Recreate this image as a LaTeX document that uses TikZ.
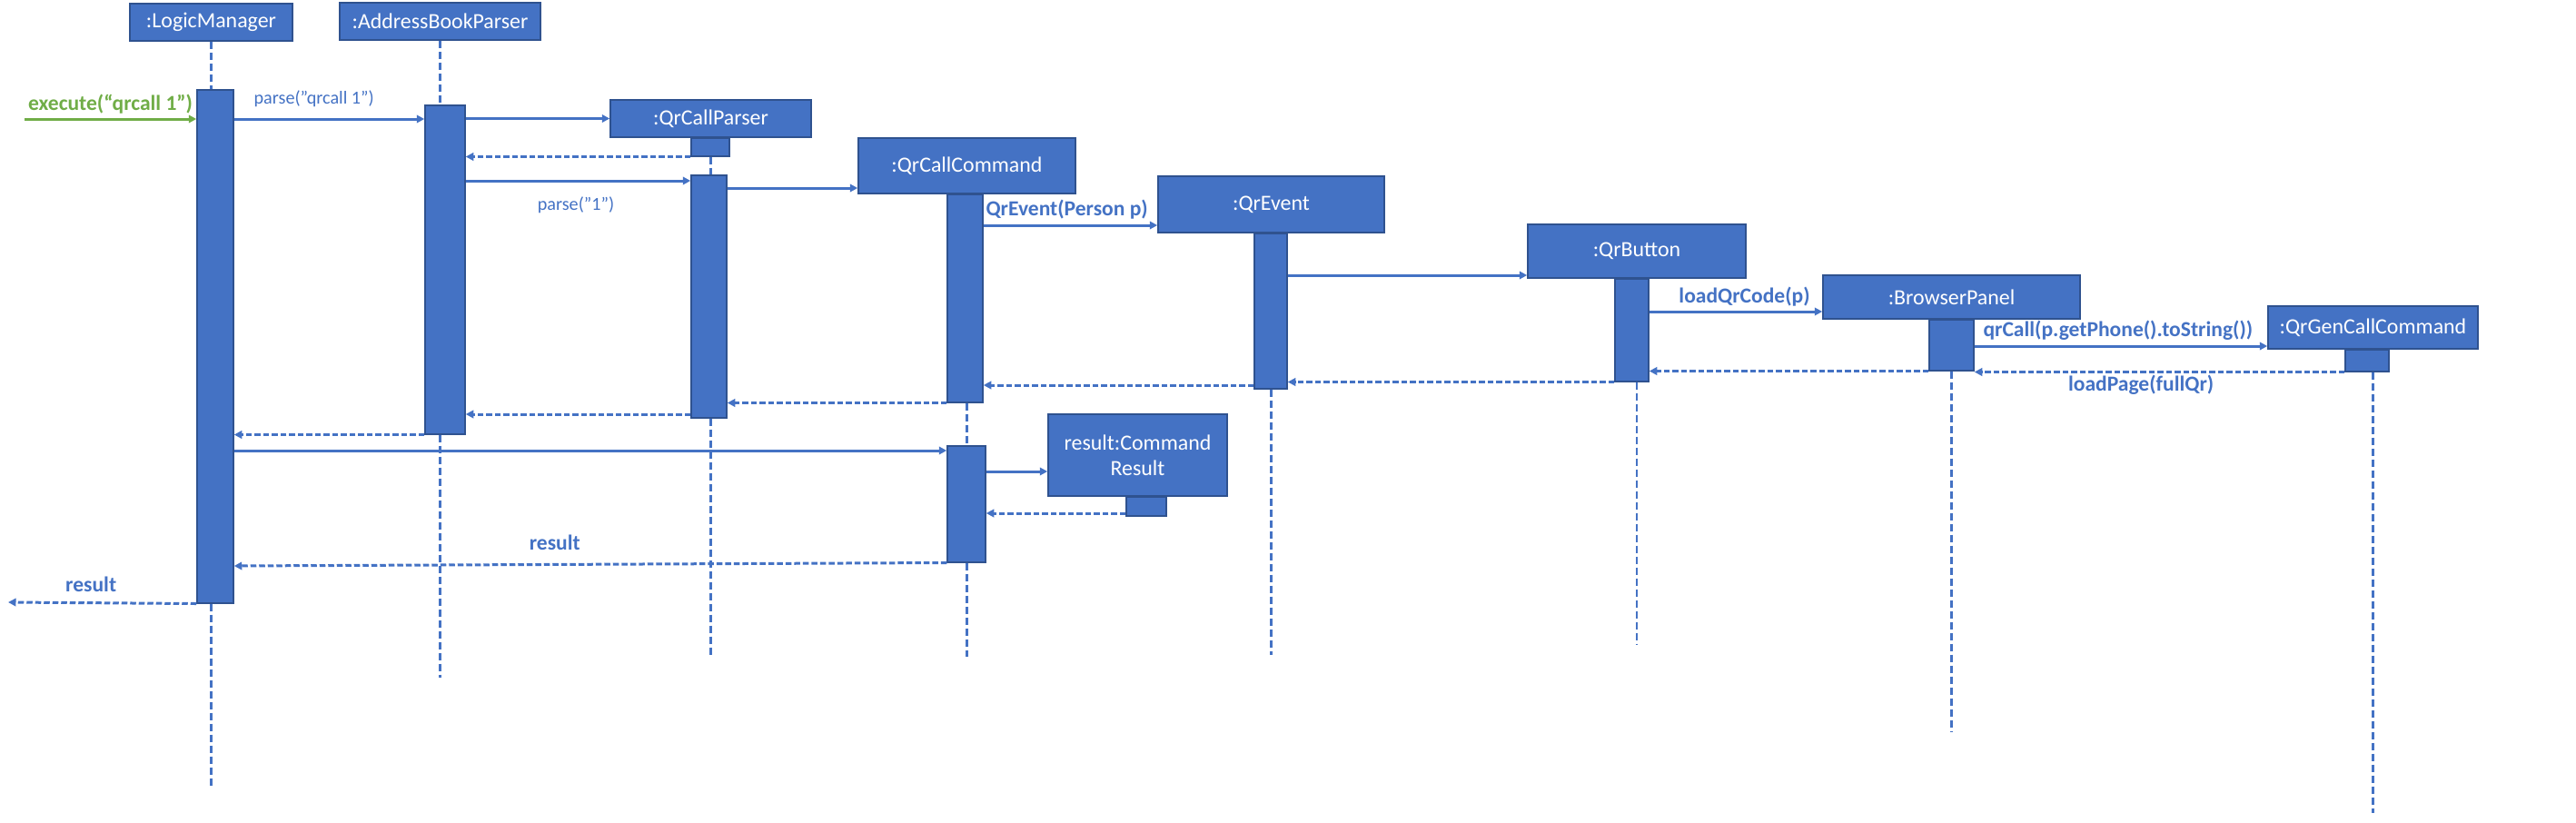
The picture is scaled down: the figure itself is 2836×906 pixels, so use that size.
\documentclass[tikz,border=0pt]{standalone}
\usepackage{fontspec}
\setmainfont{Carlito}
\usetikzlibrary{arrows.meta}
\definecolor{qrblue}{HTML}{4472C4}
\definecolor{boxline}{HTML}{2F528F}
\definecolor{callgreen}{HTML}{70AD47}
\newcommand{\objfont}{\fontsize{13.6}{16}\selectfont}
\newcommand{\msgfont}{\fontsize{13.4}{16}\selectfont\bfseries}
\newcommand{\argfont}{\fontsize{11.5}{14}\selectfont}
\tikzset{
  objbox/.style 2 args={
    draw=boxline,
    fill=qrblue,
    text=white,
    font=\objfont,
    align=center,
    line width=0.3mm,
    inner sep=0pt,
    minimum width=#1,
    minimum height=#2,
  },
  actbar/.style 2 args={
    draw=boxline,
    fill=qrblue,
    line width=0.3mm,
    inner sep=0pt,
    anchor=north,
    minimum width=#1,
    minimum height=#2,
  },
  life/.style={
    draw=qrblue,
    line width=0.5mm,
    dash pattern=on 1.7mm off 0.7mm,
  },
  call/.style={
    -{Triangle[length=1.7mm, width=1.7mm]},
    line width=0.6mm,
    draw=qrblue,
  },
  ret/.style={
    call,
    dash pattern=on 1.3mm off 0.6mm,
  },
  msg/.style={
    font=\msgfont,
    text=qrblue,
    inner sep=0pt,
    anchor=base,
  },
  arg/.style={
    font=\argfont,
    text=qrblue,
    inner sep=0pt,
    anchor=base,
  },
}

\begin{document}
\begin{tikzpicture}[x=0.2mm, y=-0.2mm]
\useasboundingbox (0,0) rectangle (2836,906);

% === Objects ===

\node[objbox={35.8mm}{8.2mm}] (logic) at (232.5,24.5) {:LogicManager};
\node[objbox={44.2mm}{8.2mm}] (parser) at (484.5,23.5) {:AddressBookParser};
\node[objbox={44.2mm}{8.2mm}] (qrparser) at (782.5,130.5) {:QrCallParser};
\node[objbox={47.8mm}{12.2mm}] (qrcmd) at (1064.5,182.5) {:QrCallCommand};
\node[objbox={49.8mm}{12.4mm}] (qrevent) at (1399.5,225) {:QrEvent};
\node[objbox={48mm}{11.8mm}] (qrbutton) at (1802,276.5) {:QrButton};
\node[objbox={56.6mm}{9.6mm}] (browser) at (2148.5,327) {:BrowserPanel};
\node[objbox={46.2mm}{9.4mm}] (qrgen) at (2612.5,360.5) {:QrGenCallCommand};
\node[objbox={39.4mm}{18mm}] (result) at (1252.5,501) {result:Command\\Result};

% === Activations ===

\node[actbar={8mm}{113mm}] (logicact) at (237,98) {};
\node[actbar={8.8mm}{72.4mm}] (parseract) at (490,115) {};
\node[actbar={8.4mm}{4mm}] (qrparseract) at (782,151) {};
\node[actbar={7.8mm}{53.4mm}] (qrparseract2) at (780.5,192) {};
\node[actbar={7.8mm}{45.8mm}] (qrcmdact) at (1062.5,213) {};
\node[actbar={8.4mm}{25.6mm}] (qrcmdact2) at (1064,490) {};
\node[actbar={7.2mm}{34.2mm}] (qreventact) at (1399,256) {};
\node[actbar={7.4mm}{22.6mm}] (qrbuttonact) at (1796.5,306) {};
\node[actbar={9.8mm}{11.2mm}] (browseract) at (2148.5,351) {};
\node[actbar={9.6mm}{4.8mm}] (qrgenact) at (2606,384) {};
\node[actbar={8.8mm}{4.2mm}] (resultact) at (1262,546) {};

% === Lifelines ===

\draw[life] (logic.south) -- (logic |- logicact.north);
\draw[life] (logic |- logicact.south) -- (logic |- 0,868);
\draw[life] (parser.south) -- (parser |- parseract.north);
\draw[life] (parser |- parseract.south) -- (parser |- 0,746);
\draw[life] (qrparser |- qrparseract.south) -- (qrparser |- qrparseract2.north);
\draw[life] (qrparser |- qrparseract2.south) -- (qrparser |- 0,723);
\draw[life] (qrcmd |- qrcmdact.south) -- (qrcmd |- qrcmdact2.north);
\draw[life] (qrcmd |- qrcmdact2.south) -- (qrcmd |- 0,723);
\draw[life] (qrevent |- qreventact.south) -- (qrevent |- 0,721);
\draw[life] (qrbutton |- qrbuttonact.south) -- (qrbutton |- 0,710);
\draw[life] (browser |- browseract.south) -- (browser |- 0,805);
\draw[life] (qrgen |- qrgenact.south) -- (qrgen |- 0,895);

% === Calls ===

\coordinate (entry) at (27,131);
\draw[call, draw=callgreen] (entry) -- node[msg, text=callgreen, pos=.5, yshift=2mm] {execute(“qrcall 1”)} (logicact.west |- entry);
\draw[call] (logicact.east |- 0,131) -- node[arg, pos=.42, yshift=3.4mm] {parse("qrcall 1")} (parseract.west |- 0,131);
\draw[call] (parseract.east |- qrparser.west) -- (qrparser.west);
\draw[ret] (qrparseract.south west) -- (parseract.east |- qrparseract.south);
\draw[call] (parseract.east |- 0,199) -- node[arg, pos=.49, yshift=-6.4mm] {parse("1")} (qrparseract2.west |- 0,199);
\draw[call] (qrparseract2.east |- 0,207) -- (qrcmd.west |- 0,207);
\draw[call] (qrcmdact.east |- 0,248) -- node[msg, pos=.48, yshift=2.2mm] {QrEvent(Person p)} (qrevent.west |- 0,248);
\draw[call] (qreventact.east |- 0,303) -- (qrbutton.west |- 0,303);
\draw[call] (qrbuttonact.east |- 0,343) -- node[msg, pos=.55, yshift=2mm] {loadQrCode(p)} (browser.west |- 0,343);
\draw[call] (browseract.east |- 0,381) -- node[msg, pos=.49, yshift=2.2mm] {qrCall(p.getPhone().toString())} (qrgen.west |- 0,381);

% === Returns ===

\draw[ret] (qrgenact.south west) -- node[msg, pos=.55, yshift=-4.2mm] {loadPage(fullQr)} (browseract.east |- qrgenact.south);
\draw[ret] (browseract.south west) -- (qrbuttonact.east |- browseract.south);
\draw[ret] (qrbuttonact.south west) -- (qreventact.east |- qrbuttonact.south);
\draw[ret] (qreventact.west |- 0,424) -- (qrcmdact.east |- 0,424);
\draw[ret] (qrcmdact.south west) -- (qrparseract2.east |- qrcmdact.south);
\draw[ret] (qrparseract2.west |- 0,456) -- (parseract.east |- 0,456);
\draw[ret] (parseract.south west) -- (logicact.east |- parseract.south);

% === Result ===

\draw[call] (logicact.east |- 0,496) -- (qrcmdact2.west |- 0,496);
\draw[call] (qrcmdact2.east |- 0,519) -- (result.west |- 0,519);
\draw[ret] (resultact.west |- 0,565) -- (qrcmdact2.east |- 0,565);
\draw[ret] (qrcmdact2.south west) -- node[msg, pos=.55, yshift=3.2mm] {result} (logicact.east |- 0,623);
\coordinate (exit) at (9,663);
\draw[ret] (logicact.south west) -- node[msg, pos=.56, yshift=2.4mm] {result} (exit);

\end{tikzpicture}
\end{document}
